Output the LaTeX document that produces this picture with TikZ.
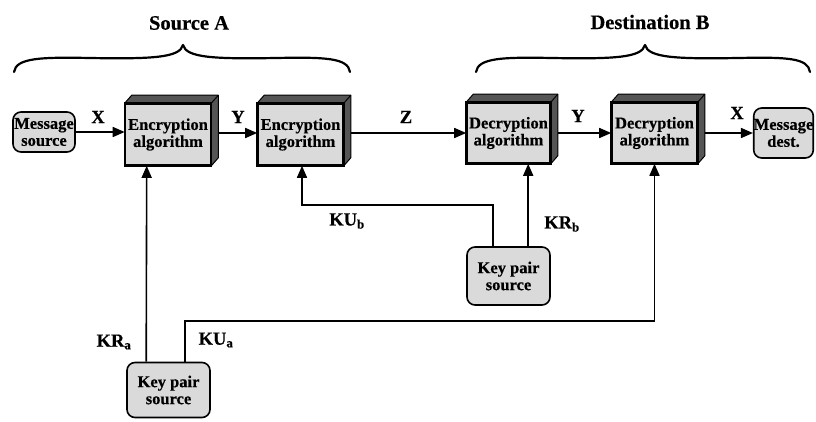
\documentclass[tikz,border=0pt]{standalone}
\usepackage{fontspec}
\setmainfont{Liberation Serif}[BoldFeatures={FakeBold=0.5}]
\usetikzlibrary{arrows.meta,calc,backgrounds}

\definecolor{facelight}{HTML}{DADADA}
\definecolor{facedark}{HTML}{555555}

\tikzset{
  boxtext/.style={font=\bfseries\fontsize{16.5}{17}\selectfont},
  cube/.style={boxtext, draw, line width=1.6pt, fill=facelight,
    minimum width=85pt, minimum height=61pt, inner sep=0pt, align=center},
  rbox/.style={boxtext, draw, line width=1.6pt, fill=facelight,
    rounded corners=8pt, inner sep=0pt, align=center},
  conn/.style={line width=1.6pt, -{Triangle[length=12pt,width=10pt]}},
  lbl/.style={font=\bfseries\fontsize{18.5}{20}\selectfont, inner sep=0pt},
  title/.style={font=\bfseries\fontsize{20.5}{24}\selectfont, inner sep=0pt},
  brace/.style={line width=2.2pt, line cap=round, line join=round}
}

% top and right faces of a block, set back from its front face
\newcommand\cubefaces[1]{%
  \filldraw[fill=facedark, draw=black, line width=1pt, line join=round]
    (#1.north west) -- ++(7,-8) -- ($(#1.north east)+(7,-8)$)
    -- ($(#1.south east)+(7,-8)$) -- (#1.south east) -- (#1.north east) -- cycle;
  \draw[line width=1pt] (#1.north east) -- ++(7,-8);
  \draw[line width=1.6pt] (#1.north west) rectangle (#1.south east);
}

\begin{document}
\begin{tikzpicture}[x=1pt,y=-1pt]
  \useasboundingbox (0,0) rectangle (816,421);

  % titles and braces
  \node[title] (ttlA) at (189,23) {Source A};
  \node[title] (ttlB) at (650,22) {Destination B};
  \draw[brace] (14,72) .. controls (16,58) and (40,57) .. (90,58)
    .. controls (150,59) and (180,58) .. (183,45)
    .. controls (186,58) and (216,59) .. (276,58)
    .. controls (326,57) and (348,58) .. (350,72);
  \draw[brace] (476,72) .. controls (478,58) and (502,57) .. (552,58)
    .. controls (612,59) and (642,58) .. (645,45)
    .. controls (648,58) and (678,59) .. (738,58)
    .. controls (788,57) and (808,58) .. (810,72);

  % blocks
  \node[rbox, minimum width=62pt, minimum height=40pt] (msrc) at (44,132) {Message\\source};
  \node[cube] (enc1) at (168,134.5) {Encryption\\algorithm};
  \node[cube] (enc2) at (300.5,134.5) {Encryption\\algorithm};
  \node[cube, minimum width=83pt, minimum height=60pt] (dec1) at (508.5,133) {Decryption\\algorithm};
  \node[cube, minimum height=60pt] (dec2) at (654.5,133) {Decryption\\algorithm};
  \node[rbox, minimum width=53pt, minimum height=50pt] (mdst) at (783.5,133) {Message\\dest.};
  \node[rbox, minimum width=83pt, minimum height=55pt] (keyA) at (168.5,390) {Key pair\\source};
  \node[rbox, minimum width=83pt, minimum height=58pt] (keyB) at (508.5,276) {Key pair\\source};

  \cubefaces{enc1}
  \cubefaces{enc2}
  \cubefaces{dec1}
  \cubefaces{dec2}

  % bends of the key lines
  \coordinate (kuaBend) at (185,321);
  \coordinate (kubBend) at (493,205);

  \begin{scope}[on background layer]
    \draw[conn] (msrc.east) -- (msrc.east -| enc1.west);
    \draw[conn] ($(enc1.east)+(0,-1.5)$) -- ($(enc2.west)+(0,-1.5)$);
    \draw[conn] ($(enc2.east)+(0,-1.5)$) -- (dec1.west);
    \draw[conn] (dec1.east) -- (dec2.west);
    \draw[conn] (dec2.east) -- (mdst.west);
    \draw[conn] ($(keyA.north west)+(20,0)$) -- ($(enc1.south west)+(22,0)$);
    \draw[conn] (keyA.north -| kuaBend) -- (kuaBend) -| (dec2.south);
    \draw[conn] (keyB.north -| kubBend) -- (kubBend) -| ($(enc2.south)+(1.5,0)$);
    \draw[conn] ($(keyB.north west)+(62,0)$) -- ($(dec1.south west)+(62,0)$);
  \end{scope}

  % connector labels
  \node[lbl] (lx1) at (98,117) {X};
  \node[lbl] (ly1) at (238,117) {Y};
  \node[lbl] (lz)  at (406,117) {Z};
  \node[lbl] (ly2) at (578,116) {Y};
  \node[lbl] (lx2) at (737,113) {X};
  \node[lbl] (lkub) at (347,221) {KU\textsubscript{b}};
  \node[lbl] (lkrb) at (562,224) {KR\textsubscript{b}};
  \node[lbl] (lkra) at (114,342) {KR\textsubscript{a}};
  \node[lbl] (lkua) at (216,340) {KU\textsubscript{a}};
\end{tikzpicture}
\end{document}
